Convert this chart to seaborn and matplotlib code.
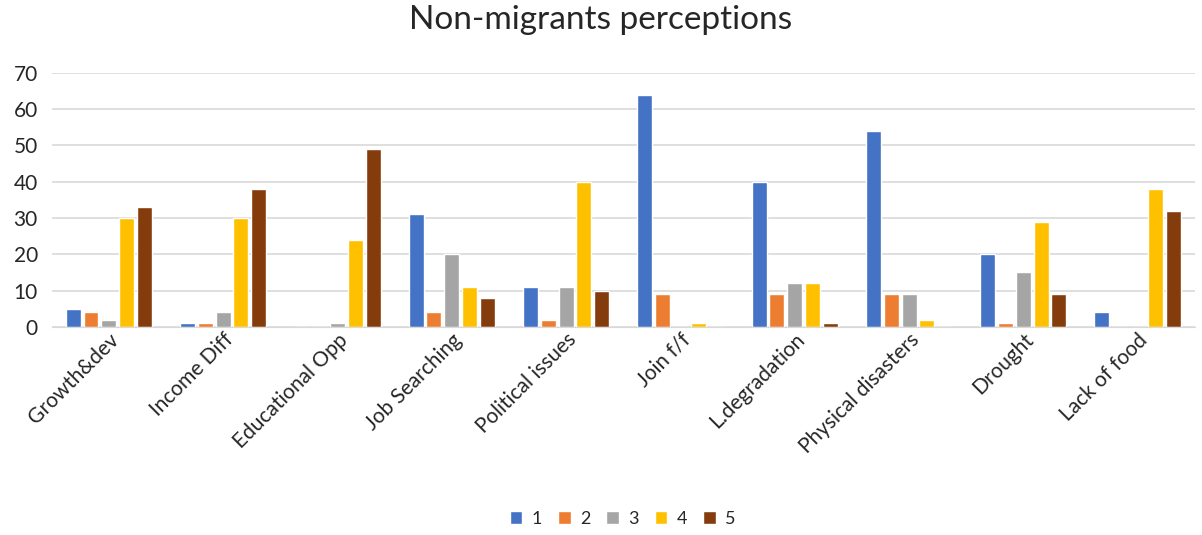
# importa bibliotecas
import pandas as pd
import seaborn as sns
import matplotlib.pyplot as plt

# categorias e valores
categories = ["Growth&dev", "Income Diff", "Educational Opp", "Job Searching",
              "Political issues", "Join f/f", "L.degradation",
              "Physical disasters", "Drought", "Lack of food"]
s1 = [5, 1, 0, 31, 11, 64, 40, 54, 20, 4]
s2 = [4, 1, 0, 4, 2, 9, 9, 9, 1, 0]
s3 = [2, 4, 1, 20, 11, 0, 12, 9, 15, 0]
s4 = [30, 30, 24, 11, 40, 1, 12, 2, 29, 38]
s5 = [33, 38, 49, 8, 10, 0, 1, 0, 9, 32]
series_names = ["1", "2", "3", "4", "5"]
colors = ["#4472C4", "#ED7D31", "#A5A5A5", "#FFC000", "#843C0C"]

# monta dataframe em formato longo
rows = []
for name, vals in zip(series_names, [s1, s2, s3, s4, s5]):
    for cat, v in zip(categories, vals):
        rows.append({"cat": cat, "serie": name, "valor": v})
df = pd.DataFrame(rows)

sns.set_style("white")
plt.rcParams['font.family'] = ['Lato', 'DejaVu Sans']

fig = plt.figure(figsize=(12.02, 5.35), dpi=100)
ax = fig.add_axes([0.043, 0.389, 0.951, 0.475])
sns.barplot(data=df, x="cat", y="valor", hue="serie", palette=colors,
            width=0.78, gap=0.16, saturation=1, ax=ax, legend=True)

ax.set_ylim(0, 70)
ax.set_yticks(range(0, 71, 10))
ax.yaxis.grid(True, color="#D9D9D9", linewidth=1.2)
ax.set_axisbelow(True)
for s in ["top", "right", "left"]:
    ax.spines[s].set_visible(False)
ax.spines["bottom"].set_color("#D9D9D9")
ax.tick_params(axis="y", labelsize=15, length=0, pad=10)
ax.tick_params(axis="x", labelsize=15, length=0, pad=2)
ax.set_xlim(-0.5, len(categories) - 0.5)
plt.setp(ax.get_xticklabels(), rotation=45, ha="right", rotation_mode="anchor")
ax.set_xlabel("")
ax.set_ylabel("")

fig.suptitle("Non-migrants perceptions", fontsize=24, y=0.99)

ax.legend(loc="lower center", bbox_to_anchor=(0.518, -0.015), bbox_transform=fig.transFigure,
          ncol=5, frameon=False, fontsize=13, handlelength=0.7, handleheight=0.7,
          columnspacing=0.9, handletextpad=0.5)

plt.savefig("out.png", dpi=100)
